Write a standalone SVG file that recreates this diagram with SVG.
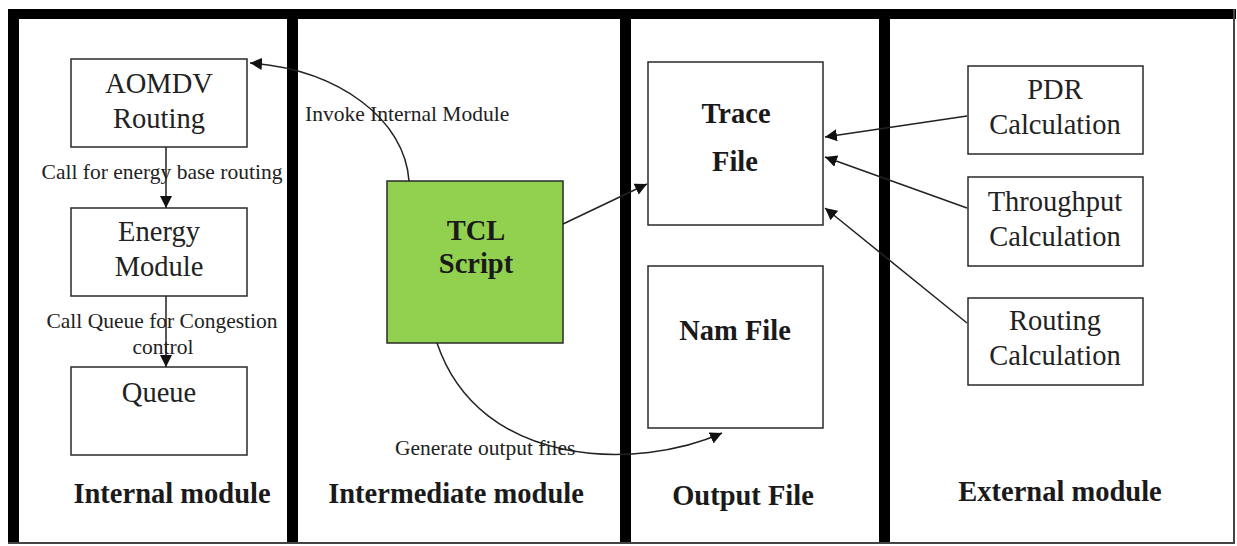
<svg xmlns="http://www.w3.org/2000/svg" width="1237" height="546" viewBox="0 0 1237 546">
<style>
.box{fill:#fff;stroke:#2a2a2a;stroke-width:1.5}
.tcl{fill:#92D050;stroke:#2a2a2a;stroke-width:1.5}
.t{font-family:"Liberation Serif","Times New Roman",serif;font-size:28.5px;fill:#222;text-anchor:middle}
.b{font-family:"Liberation Serif","Times New Roman",serif;font-size:28.5px;font-weight:bold;fill:#1a1a1a;text-anchor:middle}
.l{font-family:"Liberation Serif","Times New Roman",serif;font-size:21.5px;fill:#222}
.c{fill:none;stroke:#222;stroke-width:1.5}
.band{fill:#000}
</style>
<defs>
<marker id="ah" markerUnits="userSpaceOnUse" markerWidth="13" markerHeight="12" refX="12" refY="6" orient="auto">
<path d="M0,0 L12,6 L0,12 z" fill="#111"/>
</marker>
</defs>
<rect x="0" y="0" width="1237" height="546" fill="#fff"/>
<g id="frame">
<rect x="8" y="9" width="1228" height="535" fill="#fff"/>
<rect class="band" x="8" y="9" width="1228" height="10"/>
<rect class="band" x="8" y="9" width="11" height="535"/>
<rect class="band" x="287" y="9" width="11" height="535"/>
<rect class="band" x="620" y="9" width="11" height="535"/>
<rect class="band" x="879" y="9" width="11" height="535"/>
<line x1="1234" y1="9" x2="1234" y2="544" stroke="#444" stroke-width="2"/>
<line x1="8" y1="543" x2="1235" y2="543" stroke="#444" stroke-width="2"/>
<text class="b" x="172" y="503">Internal module</text>
<text class="b" x="456" y="503">Intermediate module</text>
<text class="b" x="743" y="505">Output File</text>
<text class="b" x="1060" y="501">External module</text>
</g>
<g id="aomdv"><rect class="box" x="71" y="59" width="176" height="88"/><text class="t" x="159" y="93">AOMDV</text><text class="t" x="159" y="128">Routing</text></g>
<g id="energy"><rect class="box" x="71" y="208" width="176" height="88"/><text class="t" x="159" y="241">Energy</text><text class="t" x="159" y="276">Module</text></g>
<g id="queue"><rect class="box" x="71" y="367" width="176" height="88"/><text class="t" x="159" y="402">Queue</text></g>
<g id="tcl"><rect class="tcl" x="387" y="181" width="176" height="162"/><text class="b" x="476" y="240">TCL</text><text class="b" x="476" y="273">Script</text></g>
<g id="trace"><rect class="box" x="648" y="62" width="175" height="163"/><text class="b" x="736" y="123">Trace</text><text class="b" x="735" y="171">File</text></g>
<g id="nam"><rect class="box" x="648" y="266" width="175" height="162"/><text class="b" x="735" y="340">Nam File</text></g>
<g id="pdr"><rect class="box" x="968" y="66" width="175" height="88"/><text class="t" x="1055" y="99">PDR</text><text class="t" x="1055" y="134">Calculation</text></g>
<g id="throughput"><rect class="box" x="968" y="177" width="175" height="89"/><text class="t" x="1055" y="211">Throughput</text><text class="t" x="1055" y="246">Calculation</text></g>
<g id="routing"><rect class="box" x="968" y="298" width="175" height="87"/><text class="t" x="1055" y="330">Routing</text><text class="t" x="1055" y="365">Calculation</text></g>
<g id="connectors">
<line class="c" x1="166" y1="147" x2="166" y2="208" marker-end="url(#ah)"/>
<line class="c" x1="166" y1="296" x2="166" y2="367" marker-end="url(#ah)"/>
<path class="c" d="M409,181 C405,120 340,70 250,63" marker-end="url(#ah)"/>
<line class="c" x1="563" y1="224" x2="647" y2="184" marker-end="url(#ah)"/>
<path class="c" d="M437,343 C480,470 640,470 722,433" marker-end="url(#ah)"/>
<line class="c" x1="967" y1="116" x2="825" y2="137" marker-end="url(#ah)"/>
<line class="c" x1="967" y1="208" x2="825" y2="157" marker-end="url(#ah)"/>
<line class="c" x1="967" y1="323" x2="825" y2="208" marker-end="url(#ah)"/>
<text class="l" x="162" y="179" text-anchor="middle">Call for energy base routing</text>
<text class="l" x="162" y="328" text-anchor="middle">Call Queue for Congestion</text>
<text class="l" x="163" y="354" text-anchor="middle">control</text>
<text class="l" x="305" y="121">Invoke Internal Module</text>
<text class="l" x="395" y="455">Generate output files</text>
</g>
</svg>
